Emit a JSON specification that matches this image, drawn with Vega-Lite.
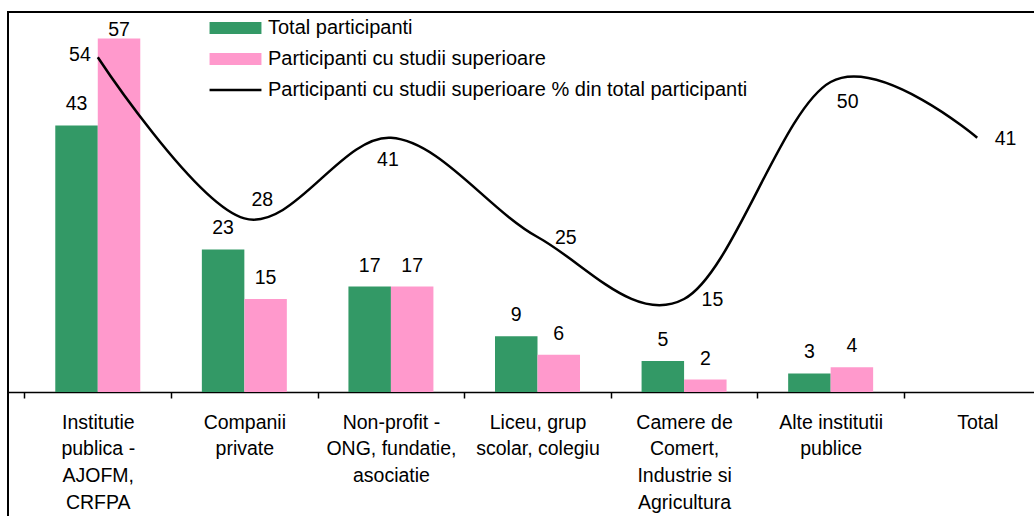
{
  "$schema": "https://vega.github.io/schema/vega-lite/v6.json",
  "autosize": "none",
  "padding": {"left": 8, "top": 12, "right": 0, "bottom": 0},
  "width": 1059,
  "height": 518,
  "background": "white",
  "config": {"font": "Liberation Sans", "view": {"stroke": "black", "strokeWidth": 2}},
  "datasets": {
    "bars": [
      {"cat": "Institutie\npublica -\nAJOFM,\nCRFPA", "series": "Total participanti", "value": 43},
      {"cat": "Institutie\npublica -\nAJOFM,\nCRFPA", "series": "Participanti cu studii superioare", "value": 57},
      {"cat": "Companii\nprivate", "series": "Total participanti", "value": 23},
      {"cat": "Companii\nprivate", "series": "Participanti cu studii superioare", "value": 15},
      {"cat": "Non-profit -\nONG, fundatie,\nasociatie", "series": "Total participanti", "value": 17},
      {"cat": "Non-profit -\nONG, fundatie,\nasociatie", "series": "Participanti cu studii superioare", "value": 17},
      {"cat": "Liceu, grup\nscolar, colegiu", "series": "Total participanti", "value": 9},
      {"cat": "Liceu, grup\nscolar, colegiu", "series": "Participanti cu studii superioare", "value": 6},
      {"cat": "Camere de\nComert,\nIndustrie si\nAgricultura", "series": "Total participanti", "value": 5},
      {"cat": "Camere de\nComert,\nIndustrie si\nAgricultura", "series": "Participanti cu studii superioare", "value": 2},
      {"cat": "Alte institutii\npublice", "series": "Total participanti", "value": 3},
      {"cat": "Alte institutii\npublice", "series": "Participanti cu studii superioare", "value": 4}
    ],
    "pct": [
      {"cat": "Institutie\npublica -\nAJOFM,\nCRFPA", "value": 54},
      {"cat": "Companii\nprivate", "value": 28},
      {"cat": "Non-profit -\nONG, fundatie,\nasociatie", "value": 41},
      {"cat": "Liceu, grup\nscolar, colegiu", "value": 25},
      {"cat": "Camere de\nComert,\nIndustrie si\nAgricultura", "value": 15},
      {"cat": "Alte institutii\npublice", "value": 50},
      {"cat": "Total", "value": 41}
    ]
  },
  "layer": [
    {
      "data": {"name": "bars"},
      "mark": {"type": "bar"},
      "encoding": {
        "x": {
          "field": "cat", "type": "nominal",
          "scale": {
            "domain": ["Institutie\npublica -\nAJOFM,\nCRFPA", "Companii\nprivate", "Non-profit -\nONG, fundatie,\nasociatie", "Liceu, grup\nscolar, colegiu", "Camere de\nComert,\nIndustrie si\nAgricultura", "Alte institutii\npublice", "Total"],
            "paddingInner": 0, "paddingOuter": 0.1125
          },
          "axis": {
            "orient": "bottom", "offset": -138, "title": null, "labelAngle": 0,
            "labelFontSize": 19.5, "labelColor": "black", "labelLineHeight": 26.7,
            "labelPadding": 15, "labelBaseline": "top", "labelOverlap": false, "labelLimit": 0,
            "labelExpr": "split(datum.label, '\\n')",
            "tickBand": "extent", "tickSize": 6, "tickColor": "black", "tickWidth": 1.5,
            "domainColor": "black", "domainWidth": 1.5
          }
        },
        "y": {
          "field": "value", "type": "quantitative",
          "scale": {"domain": [-22.26, 61.29], "nice": false, "zero": false},
          "axis": null
        },
        "xOffset": {
          "field": "series", "type": "nominal",
          "scale": {"domain": ["Total participanti", "Participanti cu studii superioare"], "paddingInner": 0, "paddingOuter": 0.7247}
        },
        "color": {
          "field": "series", "type": "nominal",
          "scale": {
            "domain": ["Total participanti", "Participanti cu studii superioare", "Participanti cu studii superioare % din total participanti"],
            "range": ["#339966", "#FF99CC", "#000000"]
          },
          "legend": {
            "orient": "none", "legendX": 217.5, "legendY": 6, "title": null,
            "symbolSize": 900, "labelFontSize": 20, "labelColor": "black", "labelLimit": 0,
            "labelOffset": 22.5, "rowPadding": 11, "padding": 0, "symbolOpacity": 1,
            "encode": {
              "symbols": {
                "update": {
                  "shape": {"signal": "datum.value === 'Participanti cu studii superioare % din total participanti' ? 'M-1.73,0H1.73' : 'M-1.73,-0.4H1.73V0.4H-1.73Z'"},
                  "stroke": {"value": "black"},
                  "strokeWidth": {"signal": "datum.value === 'Participanti cu studii superioare % din total participanti' ? 2.5 : 0"}
                }
              }
            }
          }
        }
      }
    },
    {
      "data": {"name": "bars"},
      "transform": [{"filter": "datum.value < 50"}],
      "mark": {"type": "text", "fontSize": 19.5, "baseline": "middle", "dy": -21, "color": "black"},
      "encoding": {
        "x": {"field": "cat", "type": "nominal"},
        "y": {"field": "value", "type": "quantitative"},
        "xOffset": {"field": "series", "type": "nominal"},
        "text": {"field": "value", "type": "quantitative"}
      }
    },
    {
      "data": {"name": "bars"},
      "transform": [{"filter": "datum.value >= 50"}],
      "mark": {"type": "text", "fontSize": 19.5, "baseline": "middle", "dy": -9, "color": "black"},
      "encoding": {
        "x": {"field": "cat", "type": "nominal"},
        "y": {"field": "value", "type": "quantitative"},
        "xOffset": {"field": "series", "type": "nominal"},
        "text": {"field": "value", "type": "quantitative"}
      }
    },
    {
      "data": {"name": "pct"},
      "mark": {"type": "line", "interpolate": "cardinal", "color": "black", "strokeWidth": 2.5},
      "encoding": {
        "x": {"field": "cat", "type": "nominal"},
        "y": {"field": "value", "type": "quantitative"}
      }
    },
    {
      "data": {"name": "pct"},
      "transform": [{"filter": {"field": "cat", "oneOf": ["Institutie\npublica -\nAJOFM,\nCRFPA"]}}],
      "mark": {"type": "text", "fontSize": 19.5, "baseline": "middle", "align": "right", "dx": -7, "dy": -2, "color": "black"},
      "encoding": {
        "x": {"field": "cat", "type": "nominal"},
        "y": {"field": "value", "type": "quantitative"},
        "text": {"field": "value", "type": "quantitative"}
      }
    },
    {
      "data": {"name": "pct"},
      "transform": [{"filter": {"field": "cat", "oneOf": ["Companii\nprivate"]}}],
      "mark": {"type": "text", "fontSize": 19.5, "baseline": "middle", "align": "center", "dx": 18, "dy": -18, "color": "black"},
      "encoding": {
        "x": {"field": "cat", "type": "nominal"},
        "y": {"field": "value", "type": "quantitative"},
        "text": {"field": "value", "type": "quantitative"}
      }
    },
    {
      "data": {"name": "pct"},
      "transform": [{"filter": {"field": "cat", "oneOf": ["Non-profit -\nONG, fundatie,\nasociatie"]}}],
      "mark": {"type": "text", "fontSize": 19.5, "baseline": "middle", "align": "center", "dx": -3, "dy": 22, "color": "black"},
      "encoding": {
        "x": {"field": "cat", "type": "nominal"},
        "y": {"field": "value", "type": "quantitative"},
        "text": {"field": "value", "type": "quantitative"}
      }
    },
    {
      "data": {"name": "pct"},
      "transform": [{"filter": {"field": "cat", "oneOf": ["Liceu, grup\nscolar, colegiu", "Camere de\nComert,\nIndustrie si\nAgricultura", "Total"]}}],
      "mark": {"type": "text", "fontSize": 19.5, "baseline": "middle", "align": "left", "dx": 17.5, "dy": 1, "color": "black"},
      "encoding": {
        "x": {"field": "cat", "type": "nominal"},
        "y": {"field": "value", "type": "quantitative"},
        "text": {"field": "value", "type": "quantitative"}
      }
    },
    {
      "data": {"name": "pct"},
      "transform": [{"filter": {"field": "cat", "oneOf": ["Alte institutii\npublice"]}}],
      "mark": {"type": "text", "fontSize": 19.5, "baseline": "middle", "align": "center", "dx": 17, "dy": 20, "color": "black"},
      "encoding": {
        "x": {"field": "cat", "type": "nominal"},
        "y": {"field": "value", "type": "quantitative"},
        "text": {"field": "value", "type": "quantitative"}
      }
    }
  ]
}
